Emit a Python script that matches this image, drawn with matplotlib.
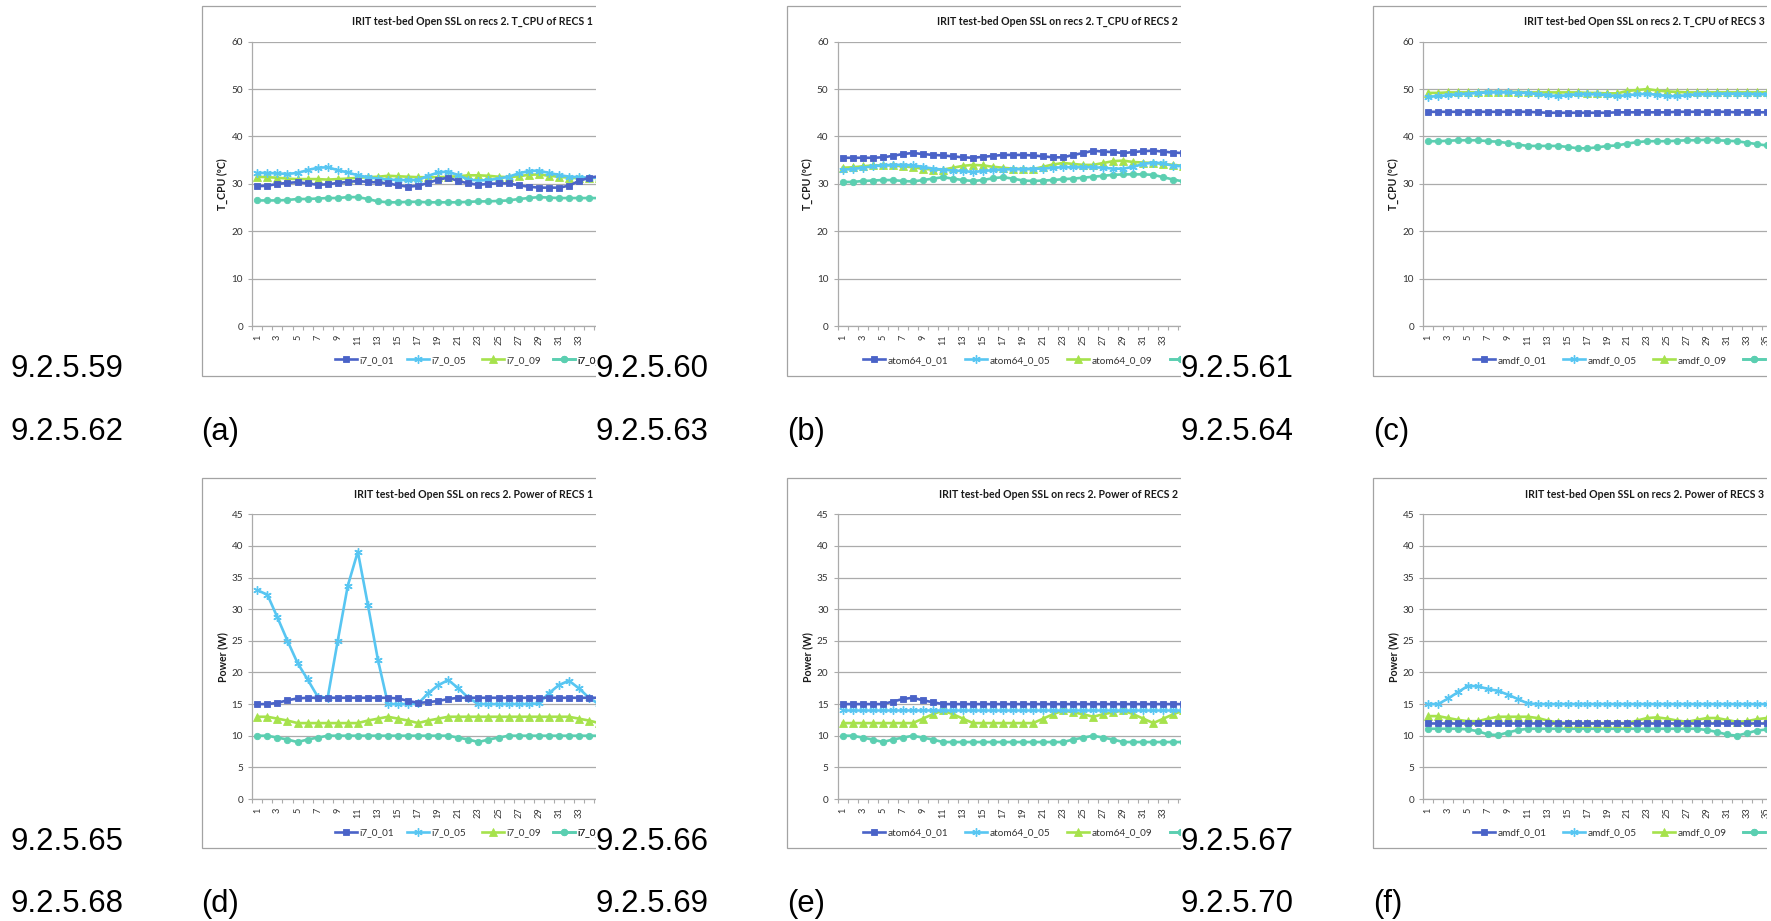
import matplotlib
matplotlib.use("Agg")
import matplotlib.pyplot as plt
from matplotlib.patches import Rectangle
from matplotlib.ticker import FixedLocator, NullFormatter

# ---------------- data ----------------
samples = list(range(1, 36))

tcpu1_names = ["i7_0_01", "i7_0_05", "i7_0_09", "i7_0_13"]
tcpu1_01 = [29.5, 29.6, 30.0, 30.2, 30.35, 30.1, 29.8, 29.9, 30.2, 30.4, 30.6, 30.4, 30.3, 30.1, 29.7, 29.4, 29.6, 30.2,
            30.9, 31.3, 30.6, 30.1, 29.8, 30.0, 30.1, 30.1, 29.7, 29.4, 29.2, 29.2, 29.2, 29.6, 30.6, 31.3, 31.6]
tcpu1_05 = [32.3, 32.3, 32.2, 32.1, 32.3, 32.9, 33.4, 33.5, 32.9, 32.4, 31.8, 31.4, 31.1, 30.9, 30.8, 30.8, 30.8, 31.7,
            32.4, 32.6, 31.8, 30.9, 30.7, 30.8, 31.1, 31.5, 32.2, 32.7, 32.8, 32.3, 31.9, 31.5, 31.4, 31.3, 31.3]
tcpu1_09 = [31.5, 31.4, 31.3, 31.1, 31.0, 31.0, 31.0, 30.9, 31.0, 31.1, 31.3, 31.4, 31.5, 31.7, 31.6, 31.5, 31.4, 31.4,
            31.4, 31.5, 31.6, 31.8, 31.8, 31.7, 31.5, 31.4, 31.6, 31.9, 32.0, 31.7, 31.5, 31.3, 31.2, 31.2, 31.3]
tcpu1_13 = [26.5, 26.5, 26.5, 26.6, 26.8, 26.8, 26.9, 27.0, 27.0, 27.2, 27.2, 26.8, 26.3, 26.1, 26.1, 26.2, 26.2, 26.1,
            26.1, 26.1, 26.1, 26.2, 26.3, 26.3, 26.4, 26.5, 26.8, 27.0, 27.2, 27.1, 27.0, 27.0, 27.0, 27.0, 27.0]

tcpu2_names = ["atom64_0_01", "atom64_0_05", "atom64_0_09", "atom64_0_13"]
tcpu2_01 = [35.5, 35.5, 35.5, 35.5, 35.6, 35.9, 36.3, 36.5, 36.3, 36.1, 36.0, 35.8, 35.6, 35.5, 35.7, 35.9, 36.1, 36.1,
            36.1, 36.0, 35.8, 35.6, 35.6, 36.1, 36.5, 37.0, 36.8, 36.7, 36.5, 36.7, 36.9, 37.0, 36.8, 36.6, 36.5]
tcpu2_05 = [33.0, 33.1, 33.4, 33.7, 33.9, 34.0, 34.0, 33.9, 33.6, 33.2, 33.0, 32.8, 32.7, 32.5, 32.7, 32.9, 33.0, 33.1,
            33.1, 33.2, 33.2, 33.4, 33.5, 33.5, 33.5, 33.5, 33.4, 33.2, 33.2, 33.6, 34.2, 34.5, 34.3, 33.8, 33.7]
tcpu2_09 = [33.4, 33.5, 33.7, 33.9, 33.9, 33.9, 33.7, 33.5, 33.2, 33.0, 33.0, 33.4, 33.8, 34.0, 33.9, 33.6, 33.4, 33.2,
            33.1, 33.1, 33.6, 34.1, 34.4, 34.2, 34.0, 34.0, 34.4, 34.8, 34.9, 34.6, 34.5, 34.4, 34.2, 34.0, 33.8]
tcpu2_13 = [30.4, 30.4, 30.6, 30.7, 30.8, 30.8, 30.6, 30.5, 30.8, 31.1, 31.4, 31.1, 30.8, 30.6, 30.8, 31.2, 31.4, 31.1,
            30.7, 30.6, 30.7, 30.8, 31.0, 31.1, 31.3, 31.5, 31.7, 31.9, 32.0, 32.0, 32.0, 31.9, 31.4, 30.9, 30.5]

tcpu3_names = ["amdf_0_01", "amdf_0_05", "amdf_0_09", "amdf_0_13"]
tcpu3_01 = [45.2, 45.2, 45.2, 45.2, 45.2, 45.2, 45.2, 45.2, 45.2, 45.2, 45.2, 45.1, 45.0, 45.0, 45.0, 45.0, 45.0, 45.0,
            45.0, 45.1, 45.1, 45.1, 45.1, 45.1, 45.1, 45.2, 45.2, 45.2, 45.2, 45.2, 45.2, 45.1, 45.1, 45.1, 45.1]
tcpu3_05 = [48.4, 48.5, 48.7, 48.9, 49.0, 49.2, 49.3, 49.3, 49.3, 49.2, 49.2, 48.9, 48.7, 48.5, 48.7, 48.9, 48.9, 48.9,
            48.7, 48.5, 48.7, 48.9, 49.0, 48.8, 48.5, 48.5, 48.7, 48.9, 48.9, 49.0, 49.0, 49.0, 49.0, 48.9, 48.9]
tcpu3_09 = [49.2, 49.2, 49.3, 49.3, 49.3, 49.3, 49.4, 49.4, 49.4, 49.4, 49.3, 49.3, 49.3, 49.3, 49.3, 49.3, 49.2, 49.2,
            49.1, 49.1, 49.6, 49.8, 50.0, 49.7, 49.5, 49.4, 49.3, 49.3, 49.3, 49.3, 49.3, 49.3, 49.3, 49.3, 49.3]
tcpu3_13 = [39.0, 39.0, 39.1, 39.2, 39.2, 39.2, 39.0, 38.9, 38.6, 38.3, 38.0, 38.0, 38.0, 38.0, 37.8, 37.5, 37.5, 37.7,
            38.0, 38.1, 38.5, 38.8, 39.0, 39.0, 39.0, 39.1, 39.2, 39.2, 39.3, 39.2, 39.1, 39.0, 38.7, 38.4, 38.1]

pow1_01 = [15.0, 15.0, 15.2, 15.6, 15.9, 16.0, 16.0, 16.0, 16.0, 16.0, 16.0, 16.0, 16.0, 16.0, 15.9, 15.5, 15.2, 15.3,
           15.5, 15.8, 16.0, 16.0, 16.0, 16.0, 16.0, 16.0, 16.0, 16.0, 16.0, 16.0, 16.0, 16.0, 16.0, 16.0, 16.0]
pow1_05 = [33.0, 32.3, 28.7, 25.0, 21.5, 18.9, 16.2, 16.0, 25.0, 33.7, 39.1, 30.7, 22.0, 15.0, 15.0, 15.0, 15.1, 16.7,
           18.0, 18.8, 17.5, 16.0, 15.0, 15.0, 15.0, 15.0, 15.0, 15.0, 15.1, 16.7, 18.0, 18.7, 17.5, 16.0, 15.0]
pow1_09 = [13.0, 13.0, 12.7, 12.4, 12.0, 12.0, 12.0, 12.0, 12.0, 12.0, 12.0, 12.4, 12.7, 13.0, 12.7, 12.4, 12.0, 12.4,
           12.7, 13.0, 13.0, 13.0, 13.0, 13.0, 13.0, 13.0, 13.0, 13.0, 13.0, 13.0, 13.0, 13.0, 12.7, 12.4, 12.0]
pow1_13 = [10.0, 10.0, 9.7, 9.4, 9.0, 9.4, 9.7, 10.0, 10.0, 10.0, 10.0, 10.0, 10.0, 10.0, 10.0, 10.0, 10.0, 10.0,
           10.0, 10.0, 9.7, 9.4, 9.0, 9.4, 9.7, 10.0, 10.0, 10.0, 10.0, 10.0, 10.0, 10.0, 10.0, 10.0, 10.0]

pow2_01 = [15.0, 15.0, 15.0, 15.0, 15.0, 15.4, 15.8, 16.0, 15.6, 15.3, 15.0, 15.0, 15.0, 15.0, 15.0, 15.0, 15.0, 15.0,
           15.0, 15.0, 15.0, 15.0, 15.0, 15.0, 15.0, 15.0, 15.0, 15.0, 15.0, 15.0, 15.0, 15.0, 15.0, 15.0, 15.0]
pow2_05 = [14.0, 14.0, 14.0, 14.0, 14.0, 14.0, 14.0, 14.0, 14.0, 14.0, 14.0, 14.0, 14.0, 14.0, 14.0, 14.0, 14.0, 14.0,
           14.0, 14.0, 14.0, 14.0, 14.0, 14.0, 14.0, 14.0, 14.0, 14.0, 14.0, 14.0, 14.0, 14.0, 14.0, 14.0, 14.0]
pow2_09 = [12.0, 12.0, 12.0, 12.0, 12.0, 12.0, 12.0, 12.0, 12.7, 13.4, 14.0, 13.4, 12.7, 12.0, 12.0, 12.0, 12.0, 12.0,
           12.0, 12.0, 12.7, 13.4, 14.0, 13.7, 13.4, 13.0, 13.4, 13.7, 14.0, 13.4, 12.7, 12.0, 12.7, 13.4, 14.0]
pow2_13 = [10.0, 10.0, 9.7, 9.4, 9.0, 9.4, 9.7, 10.0, 9.7, 9.4, 9.0, 9.0, 9.0, 9.0, 9.0, 9.0, 9.0, 9.0,
           9.0, 9.0, 9.0, 9.0, 9.0, 9.4, 9.7, 10.0, 9.7, 9.4, 9.0, 9.0, 9.0, 9.0, 9.0, 9.0, 9.0]

pow3_01 = [12.0, 12.0, 12.0, 12.0, 12.0, 12.0, 12.0, 12.0, 12.0, 12.0, 12.0, 12.0, 12.0, 12.0, 12.0, 12.0, 12.0, 12.0,
           12.0, 12.0, 12.0, 12.0, 12.0, 12.0, 12.0, 12.0, 12.0, 12.0, 12.0, 12.0, 12.0, 12.0, 12.0, 12.0, 12.0]
pow3_05 = [15.0, 15.0, 15.9, 16.9, 17.9, 17.8, 17.4, 17.1, 16.5, 15.8, 15.1, 15.0, 15.0, 15.0, 15.0, 15.0, 15.0, 15.0,
           15.0, 15.0, 15.0, 15.0, 15.0, 15.0, 15.0, 15.0, 15.0, 15.0, 15.0, 15.0, 15.0, 15.0, 15.0, 15.0, 15.0]
pow3_09 = [13.1, 13.1, 12.8, 12.5, 12.3, 12.3, 12.7, 13.0, 13.0, 13.0, 13.0, 12.8, 12.4, 12.1, 12.0, 12.0, 12.0, 12.0,
           12.0, 12.0, 12.0, 12.4, 12.8, 12.9, 12.7, 12.4, 12.2, 12.5, 12.8, 12.8, 12.5, 12.2, 12.3, 12.6, 12.8]
pow3_13 = [11.1, 11.1, 11.1, 11.1, 11.0, 10.7, 10.2, 10.1, 10.5, 10.9, 11.1, 11.1, 11.1, 11.1, 11.1, 11.1, 11.1, 11.1,
           11.1, 11.1, 11.1, 11.1, 11.1, 11.1, 11.1, 11.1, 11.1, 11.1, 10.9, 10.6, 10.2, 10.0, 10.4, 10.8, 11.0]

tcpu_titles = ["IRIT test-bed Open SSL on recs 2. T_CPU of RECS 1",
               "IRIT test-bed Open SSL on recs 2. T_CPU of RECS 2",
               "IRIT test-bed Open SSL on recs 2. T_CPU of RECS 3"]
pow_titles = ["IRIT test-bed Open SSL on recs 2. Power of RECS 1",
              "IRIT test-bed Open SSL on recs 2. Power of RECS 2",
              "IRIT test-bed Open SSL on recs 2. Power of RECS 3"]
tcpu_ylabel = "T_CPU (ºC)"
pow_ylabel = "Power (W)"
tcpu_yticks = [0, 10, 20, 30, 40, 50, 60]
pow_yticks = [0, 5, 10, 15, 20, 25, 30, 35, 40, 45]

top_labels = [["9.2.5.59", "9.2.5.60", "9.2.5.61"], ["9.2.5.65", "9.2.5.66", "9.2.5.67"]]
bot_labels = [["9.2.5.62", "9.2.5.63", "9.2.5.64"], ["9.2.5.68", "9.2.5.69", "9.2.5.70"]]
sub_labels = [["(a)", "(b)", "(c)"], ["(d)", "(e)", "(f)"]]

# ---------------- style ----------------
W, H = 1771, 921
COLORS = ["#4A63C8", "#58C6F2", "#A6E24C", "#5BCFB1"]
MARKERS = ["s", (6, 2, 0), "^", "o"]
MSIZES = [4.6, 6.0, 5.2, 4.6]
GRID = "#ABABAB"
CF = "Lato"

fig = plt.figure(figsize=(W / 100, H / 100), dpi=100)
fig.patch.set_facecolor("white")


def fx(px):
    return px / W


def fy(py):
    return 1 - py / H


# column geometry: frame left, axis left, category spacing, clip right, legend entry starts
cols = [
    dict(frame=202, axL=252.3, sp=10.05, clip=595.7, leg=[335, 406.7, 481.7, 553.3], nxt=787),
    dict(frame=787.3, axL=837.7, sp=10.02, clip=1180.5, leg=[862.7, 965, 1067, 1170], nxt=1373),
    dict(frame=1373.3, axL=1423.3, sp=9.95, clip=1767.0, leg=[1473, 1563, 1653, 1743], nxt=W + 5),
]
rows = [
    dict(ftop=6, fbot=376, ptop=41.7, pbot=326, title=21.7, leg=360.5, base1=376.7, base2=440),
    dict(ftop=478.3, fbot=848, ptop=514.3, pbot=799, title=494.3, leg=833, base1=849.5, base2=912),
]

tcpu_data = [(tcpu1_names, [tcpu1_01, tcpu1_05, tcpu1_09, tcpu1_13]),
             (tcpu2_names, [tcpu2_01, tcpu2_05, tcpu2_09, tcpu2_13]),
             (tcpu3_names, [tcpu3_01, tcpu3_05, tcpu3_09, tcpu3_13])]
pow_data = [(tcpu1_names, [pow1_01, pow1_05, pow1_09, pow1_13]),
            (tcpu2_names, [pow2_01, pow2_05, pow2_09, pow2_13]),
            (tcpu3_names, [pow3_01, pow3_05, pow3_09, pow3_13])]

renderer = fig.canvas.get_renderer()


def fit(text, target, fs0, **kw):
    t = fig.text(0, 0, text, fontsize=fs0, **kw)
    w = t.get_window_extent(renderer).width
    t.remove()
    return fs0 * target / w


title_fs = fit(tcpu_titles[0], 241.7, 8, family=CF, weight="bold")
leg_fs = fit("atom64_0_01", 60, 7.5, family=CF)
big_fs = fit("9.2.5.59", 111.7, 22, family="Liberation Sans")

for r, row in enumerate(rows):
    for c, col in enumerate(cols):
        if r == 0:
            names, series = tcpu_data[c]
            yt, ylab, title = tcpu_yticks, tcpu_ylabel, tcpu_titles[c]
        else:
            names, series = pow_data[c]
            yt, ylab, title = pow_yticks, pow_ylabel, pow_titles[c]

        # chart frame
        fig.add_artist(Rectangle((fx(col["frame"]), fy(row["fbot"])),
                                 (col["clip"] + 40 - col["frame"]) / W, (row["fbot"] - row["ftop"]) / H,
                                 transform=fig.transFigure, facecolor="none", edgecolor="#A3A3A3",
                                 linewidth=0.9, zorder=1))

        axw = col["clip"] - col["axL"]
        ax = fig.add_axes([fx(col["axL"]), fy(row["pbot"]), axw / W, (row["pbot"] - row["ptop"]) / H])
        ax.set_zorder(2)
        ax.set_xlim(0.5, 0.5 + axw / col["sp"])
        ax.set_ylim(yt[0], yt[-1])
        handles = []
        for i, (nm, vals) in enumerate(zip(names, series)):
            h, = ax.plot(samples, vals, color=COLORS[i], marker=MARKERS[i], markersize=MSIZES[i],
                         markeredgewidth=1.0 if i == 1 else 0.6, markeredgecolor=COLORS[i],
                         linewidth=1.9, label=nm, zorder=3 + (3 - i) * 0.1)
            handles.append(h)
        ax.set_yticks(yt)
        ax.yaxis.grid(True, color=GRID, linewidth=0.9)
        ax.set_axisbelow(True)
        ax.xaxis.set_major_locator(FixedLocator(samples[::2]))
        ax.set_xticklabels([str(v) for v in samples[::2]], rotation=90, fontsize=6.6, family=CF,
                           color="#333333")
        ax.xaxis.set_minor_locator(FixedLocator([v + 0.5 for v in range(0, 40)]))
        ax.xaxis.set_minor_formatter(NullFormatter())
        ax.tick_params(axis="x", which="major", length=0, pad=6.0)
        ax.tick_params(axis="x", which="minor", length=3, width=0.8, color=GRID, direction="out")
        ax.tick_params(axis="y", which="major", length=3, width=0.8, color=GRID, direction="out",
                       pad=3.6, labelsize=7.2, labelcolor="#333333")
        for lbl in ax.get_yticklabels():
            lbl.set_family(CF)
        for s in ("top", "right"):
            ax.spines[s].set_visible(False)
        for s in ("left", "bottom"):
            ax.spines[s].set_color(GRID)
            ax.spines[s].set_linewidth(0.9)

        # title and y label
        fig.text(fx(col["clip"] - 2.5), fy(row["title"]), title, ha="right", va="center",
                 fontsize=title_fs, family=CF, weight="bold", color="#1a1a1a", zorder=5)
        fig.text(fx(col["axL"] - 30), fy((row["ptop"] + row["pbot"]) / 2), ylab, rotation=90,
                 ha="center", va="center", fontsize=7.6, family=CF, weight="bold", color="#1a1a1a", zorder=5)

        # legend: one entry per position, placed like the Excel legend
        for i, h in enumerate(handles):
            leg = ax.legend(handles=[h], labels=[names[i]], loc="center left",
                            bbox_to_anchor=(fx(col["leg"][i]), fy(row["leg"])),
                            bbox_transform=fig.transFigure, frameon=False, borderpad=0,
                            borderaxespad=0, handlelength=2.2, handletextpad=0.25,
                            numpoints=1, prop={"family": CF, "size": leg_fs})
            for t in leg.get_texts():
                t.set_color("#333333")
            ax.add_artist(leg)

        # mask to the right of clipped chart image
        fig.add_artist(Rectangle((fx(col["clip"]), 0), (col["nxt"] - 1 - col["clip"]) / W, 1,
                                 transform=fig.transFigure, facecolor="white", edgecolor="none", zorder=50))

        # document labels
        left_label_x = 10 if c == 0 else cols[c - 1]["clip"] - 0.5
        fig.text(fx(left_label_x), fy(row["base1"]), top_labels[r][c], ha="left", va="baseline",
                 fontsize=big_fs, family="Liberation Sans", color="black", zorder=60)
        fig.text(fx(left_label_x), fy(row["base2"]), bot_labels[r][c], ha="left", va="baseline",
                 fontsize=big_fs, family="Liberation Sans", color="black", zorder=60)
        fig.text(fx(col["frame"] - 0.5), fy(row["base2"]), sub_labels[r][c], ha="left", va="baseline",
                 fontsize=big_fs, family="Liberation Sans", color="black", zorder=60)

fig.savefig("out.png", dpi=100, facecolor="white")
